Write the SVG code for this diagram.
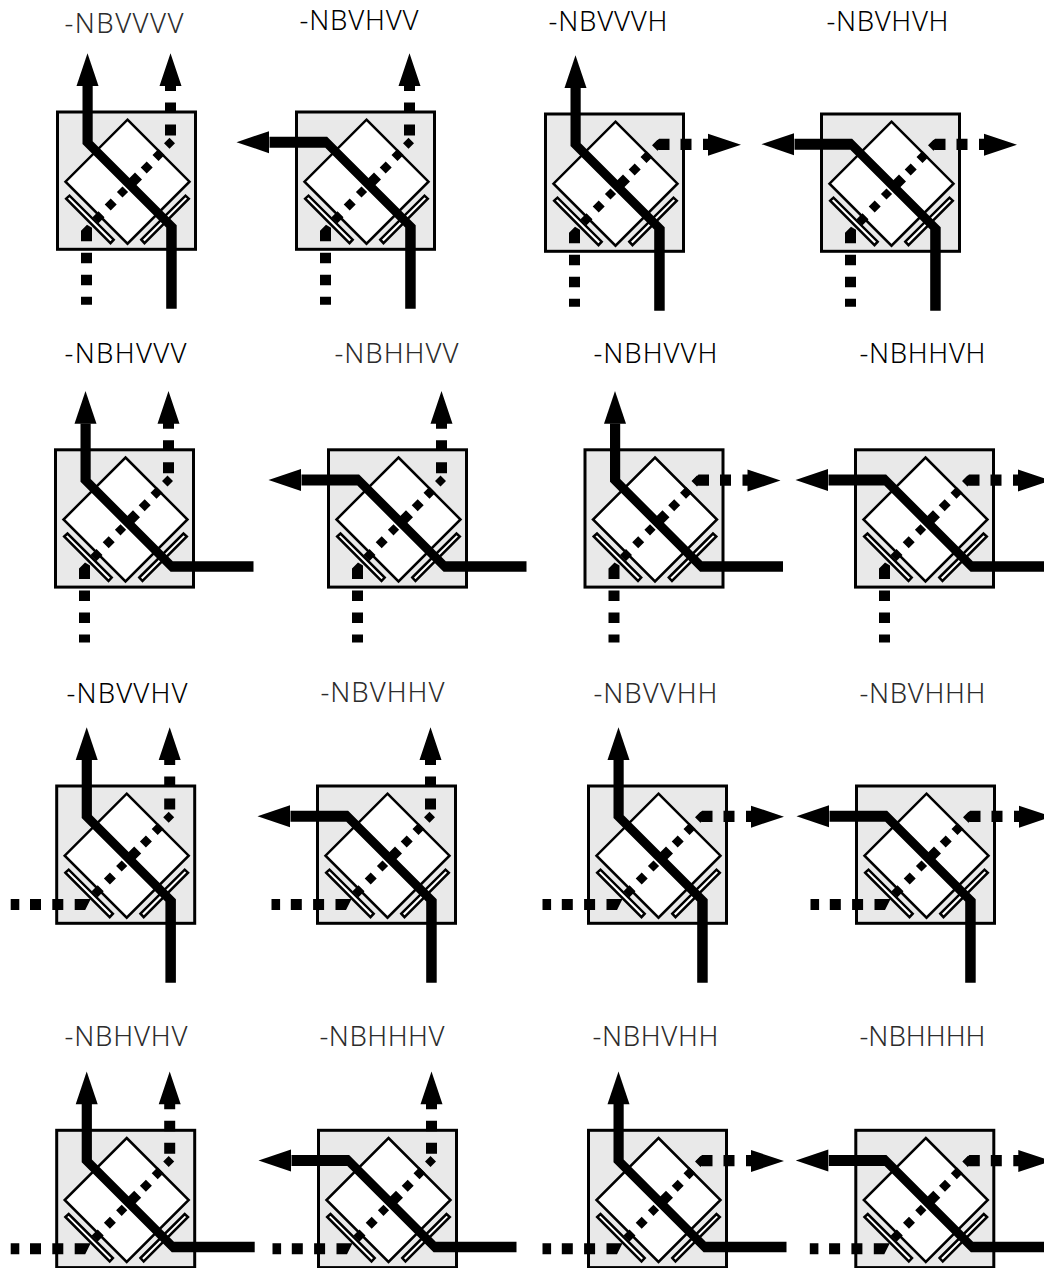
<svg xmlns="http://www.w3.org/2000/svg" width="1044" height="1268" viewBox="0 0 1044 1268">
<style>
text{font-family:"Noto Sans","Open Sans",sans-serif;font-weight:300;font-size:27.500px;font-kerning:none;fill:#2c2c2c;text-anchor:middle}
text.d{fill:#000}
.box{fill:#e9e9e9;stroke:#000;stroke-width:3}
.pr{fill:#fff;stroke:#000;stroke-width:2.500;stroke-linejoin:miter}
</style>
<defs>
<g id="core">
<rect class="box" x="-70" y="-69.700" width="138" height="137.300"/>
<path class="pr" d="M0,-62L62,0L0,62L-62,0Z"/>
<path class="pr" d="M-61.300,17L-58,14L-13.800,58L-17,61.500Z"/>
<path class="pr" d="M13.800,58L58,14L61.300,17L17,61.500Z"/>
<path d="M-29,29.500l6,6l-6,6l-6,-6zM-16.800,16.700l6,6l-6,6l-6,-6zM-5,4.700l5.600,5.600l-5.600,5.600l-5.600,-5.600zM7.500,-9.300l7,7l-7,7l-7,-7zM19.200,-20.300l6,6l-6,6l-6,-6zM31,-32.700l6,6l-6,6l-6,-6zM42,-44l5.500,5.500l-5.500,5.500l-5.500,-5.500z"/>
</g>
<g id="sVV"><path d="M-45,-96V-37.800L38.700,45.900V127H49.200V43.600L-34.800,-40.400V-96Z"/><path d="M-40,-128.500L-29,-95.700H-51Z"/></g>
<g id="sHV"><path d="M-97,-45H-39.400L49.200,43.600V127H38.700V45.900L-41.200,-34H-97Z"/><path d="M-130,-39.500L-97.500,-50.500V-28.500Z"/></g>
<g id="sVH"><path d="M-45,-96V-37.800L45.100,52.300H128V41.700H47.300L-34.800,-40.400V-96Z"/><path d="M-40,-128.500L-29,-95.700H-51Z"/></g>
<g id="sHH"><path d="M-97,-45H-39.400L47.300,41.700H128V52.300H45.100L-41.200,-34H-97Z"/><path d="M-130,-39.500L-97.500,-50.500V-28.500Z"/></g>
<g id="dotTopV"><path d="M37.500,-57.300h11v11h-11zM37.500,-79.300h11v10.500h-11zM37.500,-96h11v5.300h-11zM43,-128.500L54,-95.700H32Z"/></g>
<g id="dotTopH"><path d="M37.500,-39L43.500,-45H54V-33.800H43.500ZM65,-45H76V-33.800H65ZM87.500,-45H93V-33.800H87.500ZM92.500,-50L125.500,-39L92.500,-28Z"/></g>
<g id="dotBotV"><path d="M-46.500,49L-40.500,43L-35.500,46V59.500H-46.500ZM-46.500,71H-35.500V81.500H-46.500ZM-46.500,93H-35.500V103.500H-46.500ZM-46.500,115H-35.500V123H-46.500Z"/></g>
<g id="dotBotH"><path d="M-116,43.300H-107.400V54.300H-116ZM-96.700,43.300H-85.700V54.300H-96.700ZM-74.400,43.300H-63.400V54.300H-74.400ZM-52,43.300H-36L-41.500,54.300H-52Z"/></g>
</defs>
<g id="connectors"></g>
<g id="n1" transform="translate(127.500,181.700)"><use href="#core"/><use href="#sVV"/><use href="#dotTopV"/><use href="#dotBotV"/></g>
<g id="n2" transform="translate(366.500,181.700)"><use href="#core"/><use href="#sHV"/><use href="#dotTopV"/><use href="#dotBotV"/></g>
<g id="n3" transform="translate(615.500,183.700)"><use href="#core"/><use href="#sVV"/><use href="#dotTopH"/><use href="#dotBotV"/></g>
<g id="n4" transform="translate(891.500,183.700)"><use href="#core"/><use href="#sHV"/><use href="#dotTopH"/><use href="#dotBotV"/></g>
<g id="n5" transform="translate(125.500,519.500)"><use href="#core"/><use href="#sVH"/><use href="#dotTopV"/><use href="#dotBotV"/></g>
<g id="n6" transform="translate(398.500,519.500)"><use href="#core"/><use href="#sHH"/><use href="#dotTopV"/><use href="#dotBotV"/></g>
<g id="n7" transform="translate(655,519.500)"><use href="#core"/><use href="#sVH"/><use href="#dotTopH"/><use href="#dotBotV"/></g>
<g id="n8" transform="translate(925.500,519.500)"><use href="#core"/><use href="#sHH"/><use href="#dotTopH"/><use href="#dotBotV"/></g>
<g id="n9" transform="translate(126.700,855.700)"><use href="#core"/><use href="#sVV"/><use href="#dotTopV"/><use href="#dotBotH"/></g>
<g id="n10" transform="translate(387.500,855.700)"><use href="#core"/><use href="#sHV"/><use href="#dotTopV"/><use href="#dotBotH"/></g>
<g id="n11" transform="translate(658.500,855.700)"><use href="#core"/><use href="#sVV"/><use href="#dotTopH"/><use href="#dotBotH"/></g>
<g id="n12" transform="translate(926.500,855.700)"><use href="#core"/><use href="#sHV"/><use href="#dotTopH"/><use href="#dotBotH"/></g>
<g id="n13" transform="translate(126.700,1200)"><use href="#core"/><use href="#sVH"/><use href="#dotTopV"/><use href="#dotBotH"/></g>
<g id="n14" transform="translate(388.500,1200)"><use href="#core"/><use href="#sHH"/><use href="#dotTopV"/><use href="#dotBotH"/></g>
<g id="n15" transform="translate(658.500,1200)"><use href="#core"/><use href="#sVH"/><use href="#dotTopH"/><use href="#dotBotH"/></g>
<g id="n16" transform="translate(925.800,1200)"><use href="#core"/><use href="#sHH"/><use href="#dotTopH"/><use href="#dotBotH"/></g>
<g id="labels">
<text x="124" y="33" textLength="119">-NBVVVV</text><text class="d" x="359" y="30" textLength="119">-NBVHVV</text><text class="d" x="608" y="31" textLength="119">-NBVVVH</text><text class="d" x="887.500" y="31" textLength="122">-NBVHVH</text>
<text class="d" x="125.500" y="363" textLength="122">-NBHVVV</text><text x="396.500" y="363" textLength="124">-NBHHVV</text><text class="d" x="655.500" y="363" textLength="124">-NBHVVH</text><text class="d" x="922.500" y="363" textLength="126">-NBHHVH</text>
<text class="d" x="127" y="703" textLength="121">-NBVVHV</text><text x="382.500" y="702" textLength="124">-NBVHHV</text><text x="655.500" y="703" textLength="124">-NBVVHH</text><text x="922.500" y="703" textLength="126">-NBVHHH</text>
<text x="126" y="1046" textLength="123">-NBHVHV</text><text x="382" y="1046" textLength="125">-NBHHHV</text><text x="655.500" y="1046" textLength="126">-NBHVHH</text><text x="922.500" y="1046" textLength="126">-NBHHHH</text>
</g>
</svg>
